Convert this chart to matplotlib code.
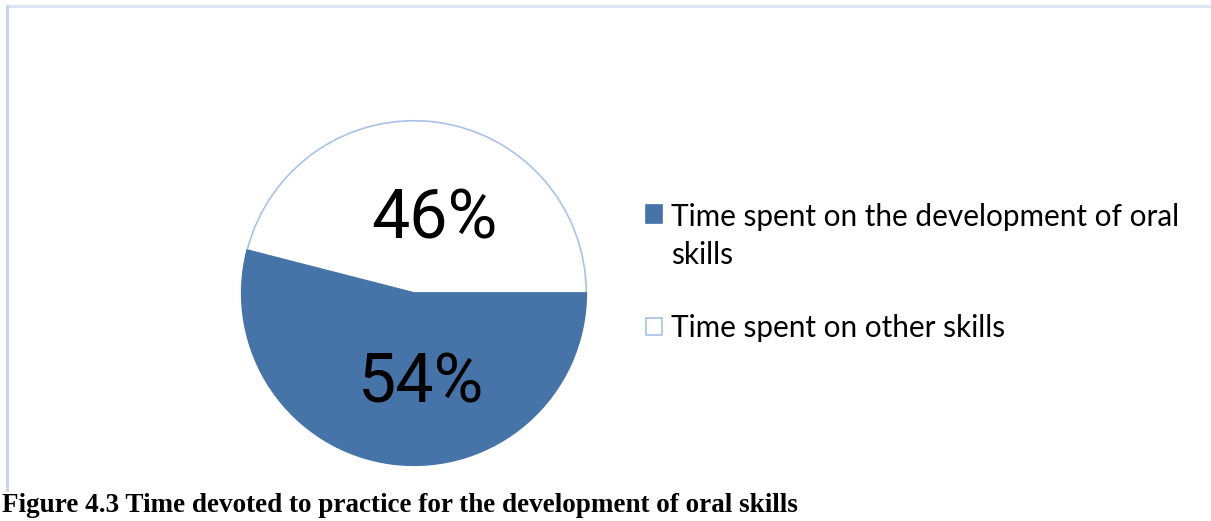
import matplotlib
matplotlib.use("Agg")
import matplotlib.pyplot as plt
from matplotlib.lines import Line2D
from matplotlib.patches import Rectangle
from matplotlib.legend_handler import HandlerPatch

categories = ["Time spent on the development of oral\nskills", "Time spent on other skills"]
values = [54, 46]
colors = ["#4674a9", "#ffffff"]
edge_colors = ["#4674a9", "#a9c2e6"]
caption = "Figure 4.3 Time devoted to practice for the development of oral skills"

W, H = 1211, 521
fig = plt.figure(figsize=(W / 100, H / 100), dpi=100)
fig.patch.set_facecolor("white")

# frame lines (light blue border)
fig.add_artist(Line2D([8 / W, 1.0], [1 - 6 / H, 1 - 6 / H], color="#dbe3f4", lw=2.0))
fig.add_artist(Line2D([7 / W, 7 / W], [1 - 6 / H, 1 - 490 / H], color="#c5d3ee", lw=2.0))

cx, cy, r = 414, 293, 174
ax = fig.add_axes([(cx - r) / W, (H - cy - r) / H, 2 * r / W, 2 * r / H])
wedges, texts, autotexts = ax.pie(
    values, colors=colors, startangle=0, counterclock=False,
    autopct="%1.0f%%", pctdistance=0.48,
    wedgeprops=dict(linewidth=1.2),
    textprops=dict(fontsize=49, family="Roboto", color="black"),
)
for w, ec in zip(wedges, edge_colors):
    w.set_edgecolor(ec)
wedges[0].set_zorder(3)
ax.set_xlim(-1.01, 1.01)
ax.set_ylim(-1.01, 1.01)
x0, y0 = autotexts[0].get_position()
autotexts[0].set_position((x0 + 0.1, y0 - 0.05))
x1, y1 = autotexts[1].get_position()
autotexts[1].set_position((x1 + 0.06, y1 - 0.05))

fs = 21.4


def top_patch(legend, orig_handle, xdescent, ydescent, width, height, fontsize):
    return Rectangle((-xdescent, -ydescent + 0.78 * fontsize), width, height)


def plain_patch(legend, orig_handle, xdescent, ydescent, width, height, fontsize):
    return Rectangle((-xdescent, -ydescent), width, height)


leg = fig.legend(
    wedges, categories, loc="upper left",
    bbox_to_anchor=(646 / W, 1 - 203 / H),
    frameon=False, prop=dict(family="Lato", size=fs),
    handlelength=0.54, handleheight=0.54, handletextpad=0.3,
    labelspacing=1.5, borderaxespad=0, borderpad=0,
    handler_map={wedges[0]: HandlerPatch(patch_func=top_patch),
                 wedges[1]: HandlerPatch(patch_func=plain_patch)},
)
for t in leg.get_texts():
    t.set_linespacing(1.45)

fig.text(2 / W, 1 - 506 / H, caption, fontsize=19.5, fontweight="bold",
         family="Liberation Serif", va="center", ha="left")

fig.savefig("out.png", dpi=100, facecolor="white")
